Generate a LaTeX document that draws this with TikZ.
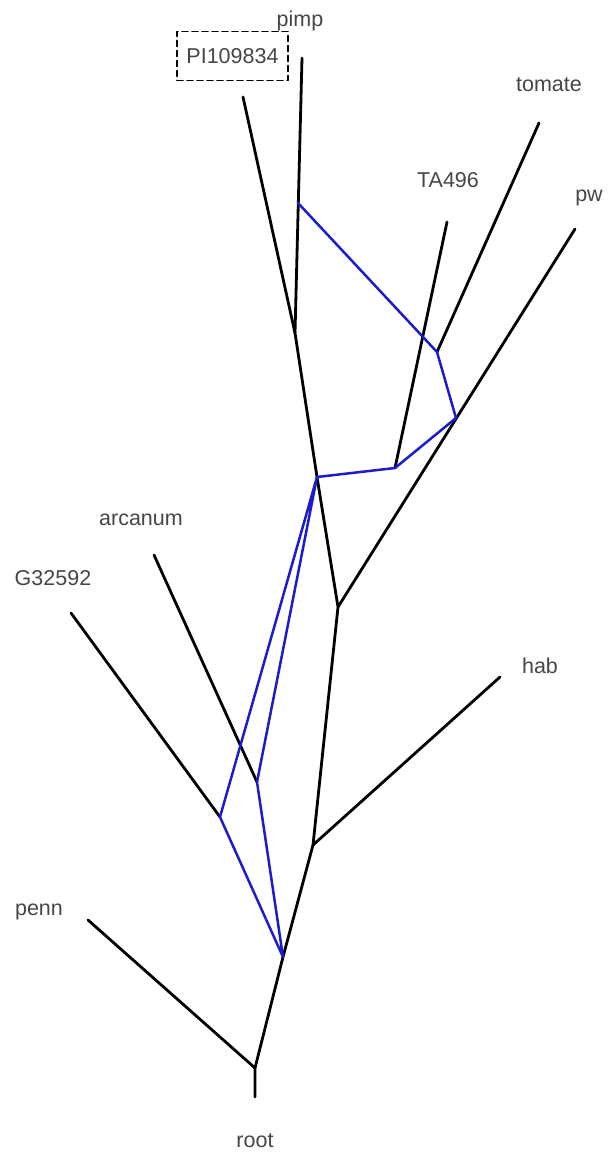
\documentclass[tikz,border=0pt]{standalone}
\usepackage{fontspec}
\setmainfont{Liberation Sans}
\definecolor{netblue}{RGB}{28,28,205}
\definecolor{labgray}{RGB}{70,70,70}
\begin{document}
\begin{tikzpicture}[x=1pt, y=-1pt, line width=2.8pt, line cap=round, line join=round,
  lab/.style={text=labgray, inner sep=0pt, anchor=base, font=\fontsize{21.5}{24}\selectfont},
  net/.style={netblue, line width=2.5pt}]
  \useasboundingbox (0,0) rectangle (610,1157);
  % tree points
  \coordinate (R0) at (255,1097);
  \coordinate (R) at (255,1068);
  \coordinate (Pn) at (88,920);
  \coordinate (N1) at (283,957);
  \coordinate (H) at (313,845);
  \coordinate (Hb) at (500,677);
  \coordinate (W) at (338,607);
  \coordinate (Pw) at (575,229);
  \coordinate (M) at (317,477);
  \coordinate (S) at (295,333);
  \coordinate (PI) at (243,97);
  \coordinate (Pm) at (302,58);
  \coordinate (K) at (298,203);
  \coordinate (T) at (437,352);
  \coordinate (Tm) at (539,123);
  \coordinate (Q) at (456,418);
  \coordinate (A) at (395,468);
  \coordinate (Ta) at (447,222);
  \coordinate (G) at (220,817);
  \coordinate (Gl) at (71,613);
  \coordinate (C) at (257,782);
  \coordinate (Cl) at (154,555);
  % black tree
  \draw (R0) -- (R) -- (Pn);
  \draw (R) -- (N1) -- (H) -- (W) -- (M) -- (S) -- (PI);
  \draw (S) -- (Pm);
  \draw (H) -- (Hb);
  \draw (W) -- (Pw);
  \draw (T) -- (Tm);
  \draw (A) -- (Ta);
  \draw (G) -- (Gl);
  \draw (C) -- (Cl);
  % blue network
  \draw[net] (K) -- (T) -- (Q) -- (A) -- (M);
  \draw[net] (N1) -- (G) -- (M) -- (C) -- (N1);
  % labels
  \node[lab] (pimp) at (300,26) {pimp};
  \node[lab, anchor=center, draw=black, line width=1.6pt, dash pattern=on 6pt off 4pt,
    minimum width=111pt, minimum height=49pt] (pi) at (232.5,56) {PI109834};
  \node[lab] (tomate) at (549,91) {tomate};
  \node[lab] (ta) at (448,187) {TA496};
  \node[lab] (pw) at (589,201) {pw};
  \node[lab] (arcanum) at (141,525) {arcanum};
  \node[lab] (g) at (53,585) {G32592};
  \node[lab] (hab) at (540,673) {hab};
  \node[lab] (penn) at (39,915) {penn};
  \node[lab] (root) at (255,1147) {root};
\end{tikzpicture}
\end{document}
